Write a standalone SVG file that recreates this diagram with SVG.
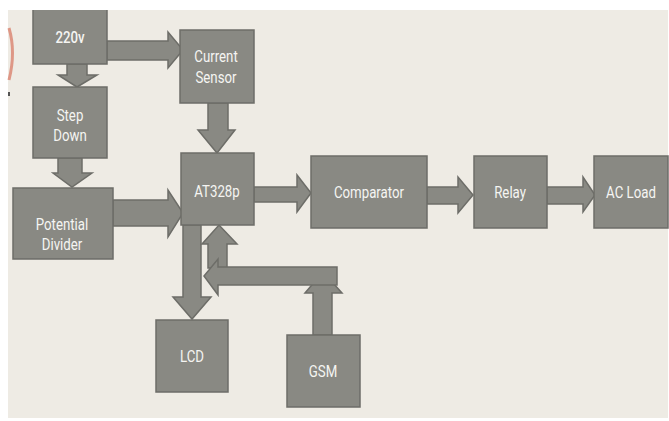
<svg xmlns="http://www.w3.org/2000/svg" width="669" height="421" viewBox="0 0 669 421">
  <style>
    .box { fill: #898983; stroke: #6d6d68; stroke-width: 1.5; }
    .arr { fill: #898983; stroke: #6d6d68; stroke-width: 1.5; stroke-linejoin: miter; }
    .lbl { fill: #f5f5f2; font-family: Roboto, "Liberation Sans", sans-serif; font-size: 17px; text-anchor: middle;
           transform-box: fill-box; transform-origin: center; transform: scaleX(0.78); }
    .bold { font-weight: 500; }
  </style>
  <rect width="669" height="421" fill="#ffffff"/>
  <rect x="8" y="10" width="660" height="408" fill="#eeebe4"/>
  <!-- clipped decorative edge on the left -->
  <path d="M9,28 Q16,52 9,80" fill="none" stroke="#d9826e" stroke-width="3" opacity="0.8"/>
  <rect x="8" y="92" width="2" height="4" fill="#555"/>

  <g id="connectors">
    <polygon class="arr" points="107,41 168,41 168,32 183,50 168,68 168,60 107,60"/>
    <polygon class="arr" points="67,64 87,64 87,75 97,75 77,87 58,75 67,75"/>
    <polygon class="arr" points="58,158 82,158 82,173 92,173 72,187 53,173 58,173"/>
    <polygon class="arr" points="113,200 168,200 168,190 183,213 168,237 168,226 113,226"/>
    <polygon class="arr" points="208,103 228,103 228,130 235,130 217,153 198,130 208,130"/>
    <polygon class="arr" points="254,187 297,187 297,175 311,193 297,212 297,202 254,202"/>
    <polygon class="arr" points="427,187 458,187 458,177 473,195 458,213 458,204 427,204"/>
    <polygon class="arr" points="547,187 583,187 583,177 595,195 583,212 583,204 547,204"/>
    <polygon class="arr" points="183,225 201,225 201,297 211,297 192,319 173,297 183,297"/>
    <polygon class="arr" points="313,335 313,293 305,293 323,272 342,293 332,293 332,335"/>
    <polygon class="arr" points="208,268 208,244 202,244 219,225 237,244 227,244 227,268"/>
    <polygon class="arr" points="337,267 337,285 218,285 218,295 204,276 218,259 218,267"/>
  </g>

  <g id="n220v"><rect class="box" x="33" y="4" width="74" height="60"/><text class="lbl bold" x="70" y="43">220v</text></g>
  <rect x="8" y="0" width="661" height="10" fill="#ffffff"/>
  <g id="current-sensor"><rect class="box" x="180" y="30" width="74" height="73"/><text class="lbl" x="216" y="62">Current</text><text class="lbl" x="216" y="83">Sensor</text></g>
  <g id="step-down"><rect class="box" x="33" y="87" width="74" height="71"/><text class="lbl" x="70" y="121">Step</text><text class="lbl" x="70" y="141">Down</text></g>
  <g id="potential-divider"><rect class="box" x="13" y="188" width="100" height="71"/><text class="lbl" x="62" y="230">Potential</text><text class="lbl" x="62" y="250">Divider</text></g>
  <g id="at328p"><rect class="box" x="181" y="153" width="73" height="72"/><text class="lbl" x="217" y="197">AT328p</text></g>
  <g id="comparator"><rect class="box" x="311" y="156" width="116" height="72"/><text class="lbl" x="369" y="198">Comparator</text></g>
  <g id="relay"><rect class="box" x="474" y="156" width="73" height="72"/><text class="lbl" x="510" y="198">Relay</text></g>
  <g id="ac-load"><rect class="box" x="594" y="156" width="74" height="72"/><text class="lbl" x="631" y="198">AC Load</text></g>
  <g id="lcd"><rect class="box" x="156" y="320" width="72" height="72"/><text class="lbl" x="192" y="362">LCD</text></g>
  <g id="gsm"><rect class="box" x="287" y="335" width="73" height="72"/><text class="lbl" x="323" y="377">GSM</text></g>
</svg>
